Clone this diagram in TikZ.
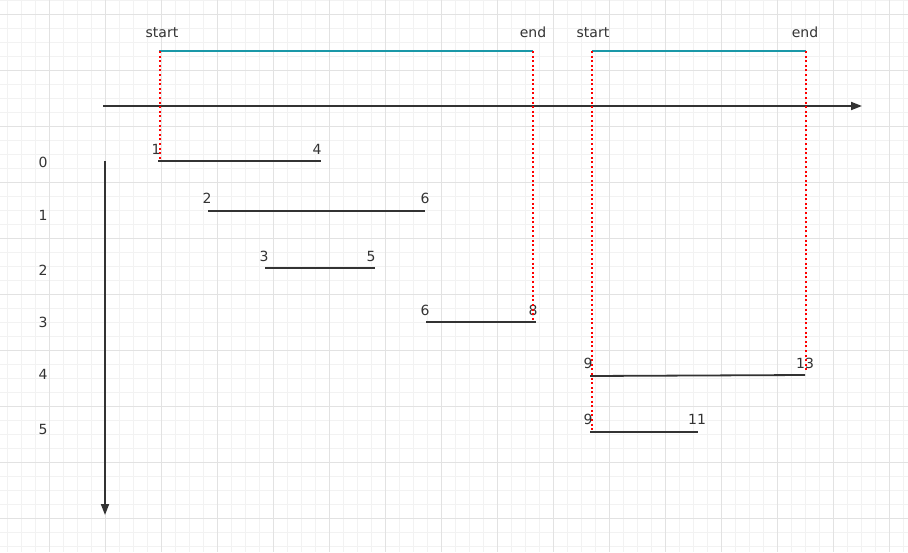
\documentclass[tikz,border=0pt]{standalone}
\usepackage{fontspec}
\setmainfont{DejaVu Sans}
\usetikzlibrary{arrows.meta}
\definecolor{gminor}{HTML}{F2F2F2}
\definecolor{gmajor}{HTML}{E2E2E2}
\definecolor{teal1}{HTML}{1A98A8}
\definecolor{ink}{HTML}{333333}
\definecolor{guidered}{HTML}{FF0000}
\tikzset{
  lbl/.style={inner sep=0pt, anchor=base, font=\fontsize{14}{14}\selectfont, text=ink},
  seg/.style={draw=ink, line width=1.8pt},
  span/.style={draw=teal1, line width=1.8pt},
  guide/.style={draw=guidered, line width=1.6pt, dash pattern=on 2pt off 2.6pt},
  axis/.style={draw=ink, line width=1.8pt, -{Triangle[length=11pt,width=8pt]}},
}
\begin{document}
\begin{tikzpicture}[x=1pt,y=-1pt]
\useasboundingbox (0,0) rectangle (908,552);
\fill[white] (0,0) rectangle (908,552);
% grid
\foreach \x in {7,21,...,907} \draw[gminor, line width=0.8pt] (\x,0) -- (\x,552);
\foreach \y in {0,14,...,552} \draw[gminor, line width=0.8pt] (0,\y) -- (908,\y);
\foreach \x in {49,105,...,907} \draw[gmajor, line width=0.9pt] (\x,0) -- (\x,552);
\foreach \y in {14,70,...,552} \draw[gmajor, line width=0.9pt] (0,\y) -- (908,\y);

% axes
\coordinate (hx0) at (103,106);
\coordinate (hx1) at (862,106);
\coordinate (vy0) at (105,161);
\coordinate (vy1) at (105,515);
\draw[axis] (hx0) -- (hx1);
\draw[axis] (vy0) -- (vy1);

% spans
\coordinate (s1a) at (159,51); \coordinate (s1b) at (533,51);
\coordinate (s2a) at (592,51); \coordinate (s2b) at (806,51);
\draw[span] (s1a) -- (s1b);
\draw[span] (s2a) -- (s2b);
\node[lbl] (st1) at (162,37.5) {start};
\node[lbl] (en1) at (533,37.5) {end};
\node[lbl] (st2) at (593,37.5) {start};
\node[lbl] (en2) at (805,37.5) {end};

% row labels
\node[lbl] (r0) at (43,167) {0};
\node[lbl] (r1) at (43,220) {1};
\node[lbl] (r2) at (43,275) {2};
\node[lbl] (r3) at (43,327) {3};
\node[lbl] (r4) at (43,379) {4};
\node[lbl] (r5) at (43,434) {5};

% segments
\coordinate (a0) at (158,161); \coordinate (b0) at (321,161);
\coordinate (a1) at (208,211); \coordinate (b1) at (425,211);
\coordinate (a2) at (265,268); \coordinate (b2) at (375,268);
\coordinate (a3) at (426,322); \coordinate (b3) at (536,322);
\coordinate (a4) at (590,376); \coordinate (b4) at (805,375);
\coordinate (a5) at (590,432); \coordinate (b5) at (698,432);
\foreach \i in {0,...,5} \draw[seg] (a\i) -- (b\i);

\node[lbl] (l0a) at (156,154) {1};
\node[lbl] (l0b) at (317,154) {4};
\node[lbl] (l1a) at (207,203) {2};
\node[lbl] (l1b) at (425,203) {6};
\node[lbl] (l2a) at (264,261) {3};
\node[lbl] (l2b) at (371,261) {5};
\node[lbl] (l3a) at (425,315) {6};
\node[lbl] (l3b) at (533,315) {8};
\node[lbl] (l4a) at (588,368) {9};
\node[lbl] (l4b) at (805,368) {13};
\node[lbl] (l5a) at (588,424) {9};
\node[lbl] (l5b) at (697,424) {11};

% guides
\coordinate (g1) at (160,51); \coordinate (g1e) at (160,161);
\coordinate (g2) at (533,51); \coordinate (g2e) at (533,321);
\coordinate (g3) at (592,51); \coordinate (g3e) at (592,432);
\coordinate (g4) at (806,51); \coordinate (g4e) at (806,372);
\draw[guide] (g1) -- (g1e);
\draw[guide] (g2) -- (g2e);
\draw[guide] (g3) -- (g3e);
\draw[guide] (g4) -- (g4e);
\end{tikzpicture}
\end{document}
